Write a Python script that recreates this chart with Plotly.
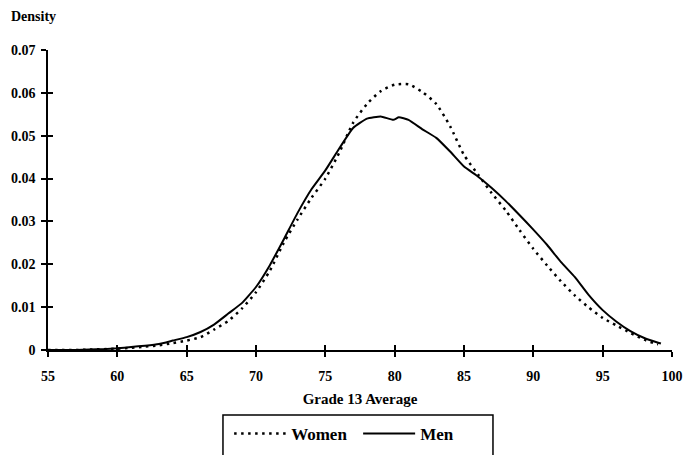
import plotly.graph_objects as go

grade_men = [55, 56, 57, 58, 59, 60, 61, 62, 63, 64, 65, 66, 67, 68, 69, 70, 71, 72, 73, 74, 75,
             76, 77, 78, 79, 79.9, 80.3, 81, 82, 83, 84, 85, 86, 87, 88, 89, 90, 91, 92, 93, 94,
             95, 96, 97, 98, 99, 99.2]
density_men = [0, 0, 0, 0.0001, 0.0002, 0.0004, 0.0007, 0.0010, 0.0014, 0.0022, 0.0030, 0.0042,
               0.0060, 0.0085, 0.0110, 0.0147, 0.0198, 0.0258, 0.0320, 0.0375, 0.0419, 0.0470,
               0.0518, 0.0540, 0.0545, 0.0537, 0.0543, 0.0537, 0.0515, 0.0495, 0.0463, 0.0428,
               0.0405, 0.0378, 0.0348, 0.0315, 0.0281, 0.0245, 0.0205, 0.0170, 0.0128, 0.0093,
               0.0066, 0.0044, 0.0028, 0.0017, 0.0015]

grade_women = [55, 56, 57, 58, 59, 60, 61, 62, 63, 64, 65, 66, 67, 68, 69, 70, 71, 72, 73, 74, 75,
               76, 77, 78, 79, 80, 81, 82, 83, 84, 85, 86, 87, 88, 89, 90, 91, 92, 93, 94, 95,
               96, 97, 98, 99]
density_women = [0, 0, 0, 0.0001, 0.0002, 0.0003, 0.0005, 0.0008, 0.0011, 0.0016, 0.0022, 0.0030,
                 0.0048, 0.0068, 0.0097, 0.0135, 0.0185, 0.0250, 0.0305, 0.0355, 0.0400, 0.0460,
                 0.0530, 0.0574, 0.0604, 0.0619, 0.0620, 0.0602, 0.0574, 0.0522, 0.0455, 0.0410,
                 0.0366, 0.0326, 0.0280, 0.0236, 0.0197, 0.0160, 0.0127, 0.0099, 0.0075, 0.0057,
                 0.0040, 0.0024, 0.0013]

x_ticks = [55, 60, 65, 70, 75, 80, 85, 90, 95, 100]
y_ticks = [0, 0.01, 0.02, 0.03, 0.04, 0.05, 0.06, 0.07]
y_tick_labels = ["0", "0.01", "0.02", "0.03", "0.04", "0.05", "0.06", "0.07"]

FONT = "Liberation Serif"

fig = go.Figure()
fig.add_trace(go.Scatter(x=grade_women, y=density_women, mode="lines", name="Women",
                         line=dict(color="black", width=2.5, dash="2.5px,4.5px", shape="spline",
                                   smoothing=0.6)))
fig.add_trace(go.Scatter(x=grade_men, y=density_men, mode="lines", name="Men",
                         line=dict(color="black", width=2, shape="spline", smoothing=0.4)))
# dummy trace for overlay axes (inside ticks)
fig.add_trace(go.Scatter(x=[None], y=[None], xaxis="x2", yaxis="y2", showlegend=False,
                         hoverinfo="skip"))

fig.update_layout(
    width=684, height=455,
    margin=dict(l=48, r=12, t=50, b=105, autoexpand=False),
    paper_bgcolor="white", plot_bgcolor="white",
    font=dict(family=FONT, color="black", size=12),
    showlegend=True,
    legend=dict(orientation="h", x=0.497, xanchor="center", y=-0.22, yanchor="top",
                borderwidth=0, bgcolor="rgba(0,0,0,0)",
                font=dict(family=FONT, size=17, color="black", weight="bold"),
                itemwidth=52, entrywidth=62),
    shapes=[dict(type="rect", xref="paper", yref="paper", x0=0.2804, x1=0.7131,
                 y0=-0.2167, y1=-0.45, line=dict(color="black", width=1.5),
                 fillcolor="rgba(0,0,0,0)", layer="above")],
    xaxis=dict(range=[55, 100], tickvals=x_ticks, ticks="outside", ticklen=5, tickwidth=1.5,
               tickcolor="black", showline=True, linecolor="black", linewidth=1.5,
               showgrid=False, zeroline=False, ticklabelstandoff=7, automargin=False,
               tickfont=dict(family=FONT, size=14, weight="bold"),
               title=dict(text="Grade 13 Average", standoff=11,
                          font=dict(family=FONT, size=15, weight="bold"))),
    yaxis=dict(range=[0, 0.07], tickvals=y_ticks, ticktext=y_tick_labels, ticks="outside",
               ticklen=5, tickwidth=1.5, tickcolor="black", showline=True, linecolor="black",
               linewidth=1.5, showgrid=False, zeroline=False, ticklabelstandoff=3,
               automargin=False, tickfont=dict(family=FONT, size=14, weight="bold")),
    xaxis2=dict(overlaying="x", matches="x", range=[55, 100], tickvals=x_ticks, ticks="inside",
                ticklen=5, tickwidth=1.5, tickcolor="black", showticklabels=False,
                showline=False, showgrid=False, zeroline=False, side="bottom",
                automargin=False),
    yaxis2=dict(overlaying="y", matches="y", range=[0, 0.07], tickvals=y_ticks, ticks="inside",
                ticklen=5, tickwidth=1.5, tickcolor="black", showticklabels=False,
                showline=False, showgrid=False, zeroline=False, side="left",
                automargin=False),
    annotations=[dict(text="Density", xref="paper", yref="paper", x=-0.062, y=1.113,
                      xanchor="left", yanchor="middle", showarrow=False,
                      font=dict(family=FONT, size=14, weight="bold"))],
)

fig.write_html("out.html", config={"displayModeBar": False},
               post_script="document.body.style.margin='0';")
